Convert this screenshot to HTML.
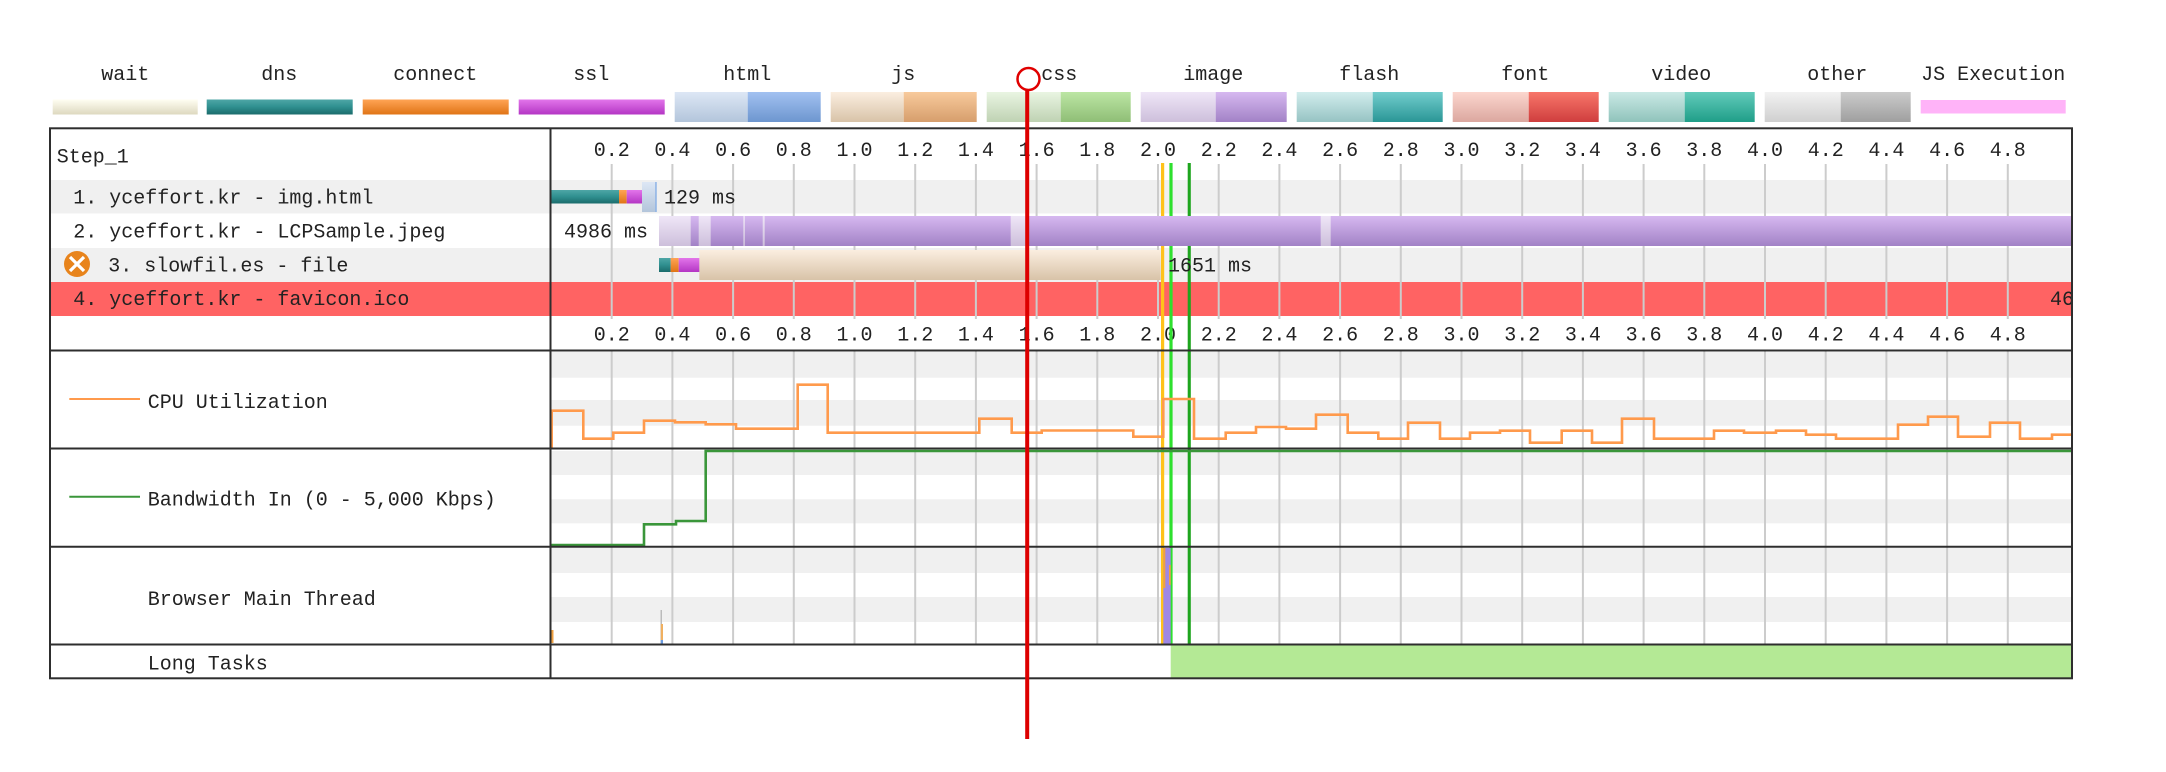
<!DOCTYPE html>
<html><head><meta charset="utf-8"><style>
html,body{margin:0;padding:0;background:#fff;}
svg{display:block;}
text{font-family:"Liberation Mono","DejaVu Sans Mono",monospace;font-size:20px;fill:#222;}
</style></head><body>
<svg width="2166" height="772" viewBox="0 0 2166 772" xmlns="http://www.w3.org/2000/svg">
<defs>
<linearGradient id="gWait" x1="0" y1="0" x2="0" y2="1"><stop offset="0" stop-color="#fffef2"/><stop offset="1" stop-color="#ddd8bf"/></linearGradient>
<linearGradient id="gDns" x1="0" y1="0" x2="0" y2="1"><stop offset="0" stop-color="#4ea6a6"/><stop offset="0.5" stop-color="#2f8f8f"/><stop offset="1" stop-color="#1b6c6c"/></linearGradient>
<linearGradient id="gCon" x1="0" y1="0" x2="0" y2="1"><stop offset="0" stop-color="#ffa455"/><stop offset="1" stop-color="#e07416"/></linearGradient>
<linearGradient id="gSsl" x1="0" y1="0" x2="0" y2="1"><stop offset="0" stop-color="#e275ea"/><stop offset="1" stop-color="#b436c4"/></linearGradient>
<linearGradient id="gHtmlL" x1="0" y1="0" x2="0" y2="1"><stop offset="0" stop-color="#dde7f5"/><stop offset="1" stop-color="#b3c5db"/></linearGradient>
<linearGradient id="gHtmlD" x1="0" y1="0" x2="0" y2="1"><stop offset="0" stop-color="#a2c1f1"/><stop offset="1" stop-color="#6d96cf"/></linearGradient>
<linearGradient id="gJsL" x1="0" y1="0" x2="0" y2="1"><stop offset="0" stop-color="#fbeee0"/><stop offset="1" stop-color="#d8c3a8"/></linearGradient>
<linearGradient id="gJsD" x1="0" y1="0" x2="0" y2="1"><stop offset="0" stop-color="#f8ca9c"/><stop offset="1" stop-color="#d69e6c"/></linearGradient>
<linearGradient id="gCssL" x1="0" y1="0" x2="0" y2="1"><stop offset="0" stop-color="#e9f5e2"/><stop offset="1" stop-color="#bfd2b3"/></linearGradient>
<linearGradient id="gCssD" x1="0" y1="0" x2="0" y2="1"><stop offset="0" stop-color="#bce6a4"/><stop offset="1" stop-color="#8fbe76"/></linearGradient>
<linearGradient id="gImgL" x1="0" y1="0" x2="0" y2="1"><stop offset="0" stop-color="#efe6f7"/><stop offset="1" stop-color="#cdbfdb"/></linearGradient>
<linearGradient id="gImgD" x1="0" y1="0" x2="0" y2="1"><stop offset="0" stop-color="#d6b8f0"/><stop offset="1" stop-color="#a282c6"/></linearGradient>
<linearGradient id="gFlL" x1="0" y1="0" x2="0" y2="1"><stop offset="0" stop-color="#d2eded"/><stop offset="1" stop-color="#96c3c3"/></linearGradient>
<linearGradient id="gFlD" x1="0" y1="0" x2="0" y2="1"><stop offset="0" stop-color="#72cdcd"/><stop offset="1" stop-color="#2a9696"/></linearGradient>
<linearGradient id="gFoL" x1="0" y1="0" x2="0" y2="1"><stop offset="0" stop-color="#fcd6ce"/><stop offset="1" stop-color="#dba79f"/></linearGradient>
<linearGradient id="gFoD" x1="0" y1="0" x2="0" y2="1"><stop offset="0" stop-color="#f8766a"/><stop offset="1" stop-color="#cf3e3e"/></linearGradient>
<linearGradient id="gViL" x1="0" y1="0" x2="0" y2="1"><stop offset="0" stop-color="#cae9e5"/><stop offset="1" stop-color="#8fc3bb"/></linearGradient>
<linearGradient id="gViD" x1="0" y1="0" x2="0" y2="1"><stop offset="0" stop-color="#62cbbb"/><stop offset="1" stop-color="#1f9e88"/></linearGradient>
<linearGradient id="gOtL" x1="0" y1="0" x2="0" y2="1"><stop offset="0" stop-color="#f2f2f2"/><stop offset="1" stop-color="#cfcfcf"/></linearGradient>
<linearGradient id="gOtD" x1="0" y1="0" x2="0" y2="1"><stop offset="0" stop-color="#cbcbcb"/><stop offset="1" stop-color="#9f9f9f"/></linearGradient>
</defs>

<!-- Legend -->
<g text-anchor="middle">
<text x="125.2" y="80">wait</text>
<text x="279.2" y="80">dns</text>
<text x="435.2" y="80">connect</text>
<text x="591.2" y="80">ssl</text>
<text x="747.2" y="80">html</text>
<text x="903.2" y="80">js</text>
<text x="1059.2" y="80">css</text>
<text x="1213.2" y="80">image</text>
<text x="1369.2" y="80">flash</text>
<text x="1525.2" y="80">font</text>
<text x="1681.2" y="80">video</text>
<text x="1837.2" y="80">other</text>
<text x="1993.2" y="80">JS Execution</text>
</g>
<rect x="52.7" y="99.5" width="145" height="15" fill="url(#gWait)"/>
<rect x="206.7" y="99.5" width="146" height="15" fill="url(#gDns)"/>
<rect x="362.7" y="99.5" width="146" height="15" fill="url(#gCon)"/>
<rect x="518.7" y="99.5" width="146" height="15" fill="url(#gSsl)"/>
<rect x="674.7" y="92" width="73" height="30" fill="url(#gHtmlL)"/><rect x="747.7" y="92" width="73" height="30" fill="url(#gHtmlD)"/>
<rect x="830.7" y="92" width="73" height="30" fill="url(#gJsL)"/><rect x="903.7" y="92" width="73" height="30" fill="url(#gJsD)"/>
<rect x="986.7" y="92" width="74" height="30" fill="url(#gCssL)"/><rect x="1060.7" y="92" width="70" height="30" fill="url(#gCssD)"/>
<rect x="1140.7" y="92" width="75" height="30" fill="url(#gImgL)"/><rect x="1215.7" y="92" width="71" height="30" fill="url(#gImgD)"/>
<rect x="1296.7" y="92" width="76" height="30" fill="url(#gFlL)"/><rect x="1372.7" y="92" width="70" height="30" fill="url(#gFlD)"/>
<rect x="1452.7" y="92" width="76" height="30" fill="url(#gFoL)"/><rect x="1528.7" y="92" width="70" height="30" fill="url(#gFoD)"/>
<rect x="1608.7" y="92" width="76" height="30" fill="url(#gViL)"/><rect x="1684.7" y="92" width="70" height="30" fill="url(#gViD)"/>
<rect x="1764.7" y="92" width="76" height="30" fill="url(#gOtL)"/><rect x="1840.7" y="92" width="70" height="30" fill="url(#gOtD)"/>
<rect x="1920.7" y="100" width="145" height="13.5" fill="#ffb3f8"/>

<!-- Row backgrounds -->
<rect x="50" y="180" width="2022" height="33.5" fill="#f0f0f0"/>
<rect x="50" y="248" width="2022" height="34" fill="#f0f0f0"/>
<rect x="50" y="282" width="2022" height="34" fill="#ff6363"/>

<!-- lower chart stripes -->
<g fill="#f0f0f0">
<rect x="551" y="352" width="1521" height="25.7"/>
<rect x="551" y="400" width="1521" height="25.7"/>
<rect x="551" y="451" width="1521" height="24"/>
<rect x="551" y="499.3" width="1521" height="24"/>
<rect x="551" y="548" width="1521" height="25"/>
<rect x="551" y="597" width="1521" height="25"/>
</g>

<!-- tick lines -->
<g stroke="#cccccc" stroke-width="2">
<path d="M611.7 164V319M672.4 164V319M733.1 164V319M793.8 164V319M854.5 164V319M915.2 164V319M975.9 164V319M1036.6 164V319M1097.3 164V319M1158 164V319M1218.7 164V319M1279.4 164V319M1340.1 164V319M1400.8 164V319M1461.5 164V319M1522.2 164V319M1582.9 164V319M1643.6 164V319M1704.3 164V319M1765 164V319M1825.7 164V319M1886.4 164V319M1947.1 164V319M2007.8 164V319"/>
<path d="M611.7 351V644M672.4 351V644M733.1 351V644M793.8 351V644M854.5 351V644M915.2 351V644M975.9 351V644M1036.6 351V644M1097.3 351V644M1158 351V644M1218.7 351V644M1279.4 351V644M1340.1 351V644M1400.8 351V644M1461.5 351V644M1522.2 351V644M1582.9 351V644M1643.6 351V644M1704.3 351V644M1765 351V644M1825.7 351V644M1886.4 351V644M1947.1 351V644M2007.8 351V644"/>
</g>

<!-- tick labels -->
<g text-anchor="middle">
<text x="611.7" y="156">0.2</text><text x="672.4" y="156">0.4</text><text x="733.1" y="156">0.6</text><text x="793.8" y="156">0.8</text><text x="854.5" y="156">1.0</text><text x="915.2" y="156">1.2</text><text x="975.9" y="156">1.4</text><text x="1036.6" y="156">1.6</text><text x="1097.3" y="156">1.8</text><text x="1158" y="156">2.0</text><text x="1218.7" y="156">2.2</text><text x="1279.4" y="156">2.4</text><text x="1340.1" y="156">2.6</text><text x="1400.8" y="156">2.8</text><text x="1461.5" y="156">3.0</text><text x="1522.2" y="156">3.2</text><text x="1582.9" y="156">3.4</text><text x="1643.6" y="156">3.6</text><text x="1704.3" y="156">3.8</text><text x="1765" y="156">4.0</text><text x="1825.7" y="156">4.2</text><text x="1886.4" y="156">4.4</text><text x="1947.1" y="156">4.6</text><text x="2007.8" y="156">4.8</text>
<text x="611.7" y="340.5">0.2</text><text x="672.4" y="340.5">0.4</text><text x="733.1" y="340.5">0.6</text><text x="793.8" y="340.5">0.8</text><text x="854.5" y="340.5">1.0</text><text x="915.2" y="340.5">1.2</text><text x="975.9" y="340.5">1.4</text><text x="1036.6" y="340.5">1.6</text><text x="1097.3" y="340.5">1.8</text><text x="1158" y="340.5">2.0</text><text x="1218.7" y="340.5">2.2</text><text x="1279.4" y="340.5">2.4</text><text x="1340.1" y="340.5">2.6</text><text x="1400.8" y="340.5">2.8</text><text x="1461.5" y="340.5">3.0</text><text x="1522.2" y="340.5">3.2</text><text x="1582.9" y="340.5">3.4</text><text x="1643.6" y="340.5">3.6</text><text x="1704.3" y="340.5">3.8</text><text x="1765" y="340.5">4.0</text><text x="1825.7" y="340.5">4.2</text><text x="1886.4" y="340.5">4.4</text><text x="1947.1" y="340.5">4.6</text><text x="2007.8" y="340.5">4.8</text>
</g>

<!-- marker lines -->
<rect x="1161" y="163" width="3.2" height="481" fill="#ffc21a"/>
<rect x="1169.4" y="163" width="3.2" height="481" fill="#2ee02e"/>
<rect x="1187.7" y="163" width="3.1" height="481" fill="#1ea51e"/>

<!-- Row labels -->
<text x="56.7" y="162.7">Step_1</text>
<text x="73.3" y="203.3">1. yceffort.kr - img.html</text>
<text x="73.3" y="237.3">2. yceffort.kr - LCPSample.jpeg</text>
<circle cx="77" cy="264" r="13" fill="#e8841c"/>
<path d="M70 257L84 271M84 257L70 271" stroke="#fff" stroke-width="3.2"/>
<text x="108.3" y="271.5">3. slowfil.es - file</text>
<text x="73.3" y="305">4. yceffort.kr - favicon.ico</text>

<!-- Row 1 bars -->
<rect x="551" y="190" width="68" height="13.5" fill="url(#gDns)"/>
<rect x="619" y="190" width="7.7" height="13.5" fill="url(#gCon)"/>
<rect x="626.7" y="190" width="15.5" height="13.5" fill="url(#gSsl)"/>
<rect x="642" y="182" width="14.7" height="30" fill="url(#gHtmlL)"/>
<rect x="655.2" y="182" width="1.5" height="30" fill="#8fb4e6"/>
<text x="664" y="203.5">129 ms</text>

<!-- Row 2 -->
<text x="648" y="237.5" text-anchor="end">4986 ms</text>
<rect x="659" y="216" width="1413" height="30" fill="url(#gImgD)"/>
<g fill="url(#gImgL)">
<rect x="659" y="216" width="31.7" height="30"/>
<rect x="698.7" y="216" width="12" height="30"/>
<rect x="743.3" y="216" width="1.6" height="30"/>
<rect x="762.7" y="216" width="2" height="30"/>
<rect x="1010.7" y="216" width="17" height="30"/>
<rect x="1320.7" y="216" width="10" height="30"/>
</g>

<!-- Row 3 -->
<rect x="659" y="258" width="11.7" height="14" fill="url(#gDns)"/>
<rect x="670.7" y="258" width="8" height="14" fill="url(#gCon)"/>
<rect x="678.7" y="258" width="21" height="14" fill="url(#gSsl)"/>
<rect x="699.3" y="250" width="461.4" height="30" fill="url(#gJsL)"/>
<text x="1168" y="271.5">1651 ms</text>

<!-- Row 4 -->
<text x="2050" y="305">46</text>
<rect x="2073.5" y="280" width="20" height="40" fill="#fff"/>

<!-- CPU line -->
<path d="M551.7 448V410.7H583.3V438.7H613.3V432.7H644V420.7H675V422.3H705.7V424.3H736V428.7H797.7V384.7H827.7V432.7H979.3V418.7H1011.7V432.7H1041.7V430.5H1133.3V436.7H1163.3V399H1194V438.7H1225.7V432.7H1256V427H1286V428.7H1316V414.7H1347.7V432.7H1378.3V438.7H1408V422.7H1440V438.7H1470V432.7H1500V430.7H1530V442.7H1561.7V430.7H1592V442.7H1622V418.7H1654V438.7H1714V430.7H1744V432.7H1776V430.7H1806V434.7H1836V438.7H1898V424.7H1928V416.7H1958V436.7H1990V422.7H2020V438.7H2052V434.7H2071" fill="none" stroke="#ff9a4c" stroke-width="2.6"/>

<!-- Bandwidth line -->
<path d="M551 545H644V524.3H676V521H705.7V451H2071" fill="none" stroke="#3a963a" stroke-width="2.6"/>

<!-- Main thread -->
<rect x="1163.3" y="548" width="7.4" height="96" fill="#9f88e4"/>
<rect x="1163.3" y="548" width="2" height="40" fill="#f0a040"/>
<rect x="1169" y="565" width="1.7" height="20" fill="#f0a040"/>
<rect x="551" y="630" width="2.5" height="13" fill="#f0a040"/>
<rect x="660.5" y="610" width="1.5" height="34" fill="#bbbbbb"/>
<rect x="660.8" y="624" width="2.2" height="16" fill="#f0b060"/>
<rect x="660.8" y="640" width="2.2" height="4" fill="#6a9ae0"/>

<!-- Long tasks -->
<rect x="1170.7" y="645.5" width="900.5" height="32" fill="#b4e995"/>

<!-- Lower label column -->
<line x1="69.3" y1="399" x2="140" y2="399" stroke="#ff9a4c" stroke-width="2"/>
<text x="147.7" y="408">CPU Utilization</text>
<line x1="69.3" y1="496.7" x2="140" y2="496.7" stroke="#3a963a" stroke-width="2"/>
<text x="147.7" y="505.5">Bandwidth In (0 - 5,000 Kbps)</text>
<text x="147.7" y="605">Browser Main Thread</text>
<text x="147.7" y="669.5">Long Tasks</text>

<!-- grid borders -->
<g stroke="#2e2e2e" stroke-width="2" fill="none">
<rect x="50" y="128.3" width="2022" height="550"/>
<line x1="550.5" y1="128.3" x2="550.5" y2="678.3"/>
<line x1="50" y1="350.5" x2="2072" y2="350.5"/>
<line x1="50" y1="448.5" x2="2072" y2="448.5"/>
<line x1="50" y1="546.7" x2="2072" y2="546.7"/>
<line x1="50" y1="644.5" x2="2072" y2="644.5"/>
</g>

<!-- red indicator -->
<circle cx="1028.5" cy="79" r="11" fill="none" stroke="#e00000" stroke-width="2.5"/>
<rect x="1025.2" y="90" width="4" height="649" fill="#dd0000"/>
</svg>
</body></html>
